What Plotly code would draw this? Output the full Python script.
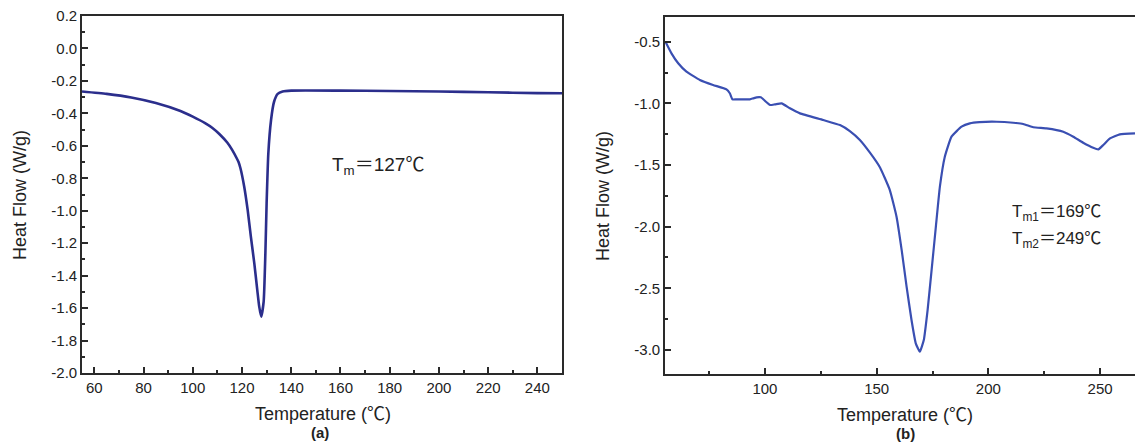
import plotly.graph_objects as go

# DSC curve (a): temperature (°C) and heat flow (W/g)
temp_a = [55, 65, 75, 85, 95, 100, 105, 108, 111, 114, 116, 117.8, 118.6, 119.4,
          120.9, 122.3, 123.6, 125.0, 126.2, 127.0, 127.8, 128.8, 129.5, 130.0, 130.7,
          131.8, 133.0, 134.5, 136.5, 140, 160, 180, 200, 220, 240, 250]
hf_a = [-0.265, -0.28, -0.302, -0.336, -0.385, -0.42, -0.46, -0.49, -0.53, -0.58,
        -0.625, -0.675, -0.70, -0.74, -0.852, -0.995, -1.16, -1.324, -1.488, -1.591,
        -1.653, -1.56, -1.262, -0.954, -0.646, -0.441, -0.33, -0.28, -0.265, -0.26,
        -0.26, -0.262, -0.265, -0.27, -0.275, -0.276]

# DSC curve (b)
temp_b = [55.5, 58.2, 61.2, 64.9, 70.9, 76.8, 82.8, 84.3, 85.5, 87.3, 93.3, 94.8,
          96.3, 98.2, 100.5, 102.3, 104.5, 107.5, 111.2, 115.7, 126.1, 133.6, 138.0,
          142.5, 147.0, 151.5, 155.9, 158.9, 161.2, 163.4, 165.6, 167.5, 169.3, 171.1,
          172.8, 174.6, 176.5, 178.3, 180.5, 183.5, 188.0, 191.7, 196.0, 203.7, 211.1,
          215.6, 220.1, 226.0, 233.5, 238.0, 242.4, 246.9, 249.2, 251.4, 254.4, 258.8,
          265.6]
hf_b = [-0.5, -0.594, -0.675, -0.743, -0.81, -0.851, -0.886, -0.918, -0.967, -0.967,
        -0.967, -0.959, -0.951, -0.951, -0.987, -1.013, -1.008, -1.0, -1.04, -1.081,
        -1.135, -1.176, -1.225, -1.297, -1.40, -1.52, -1.703, -1.919, -2.19, -2.487,
        -2.757, -2.946, -3.014, -2.919, -2.676, -2.35, -2.0, -1.676, -1.433, -1.27,
        -1.189, -1.162, -1.152, -1.149, -1.157, -1.167, -1.194, -1.203, -1.23, -1.27,
        -1.319, -1.36, -1.373, -1.338, -1.284, -1.251, -1.243]

ticks_a_y = [0.2, 0.0, -0.2, -0.4, -0.6, -0.8, -1.0, -1.2, -1.4, -1.6, -1.8, -2.0]
ticks_a_x = [60, 80, 100, 120, 140, 160, 180, 200, 220, 240]
ticks_b_y = [-0.5, -1.0, -1.5, -2.0, -2.5, -3.0]
ticks_b_x = [100, 150, 200, 250]

W, H = 1135, 443
FONT = "Liberation Sans, Arial, Noto Sans CJK SC, sans-serif"
AX = "#2a2a2a"


def px(x):
    return x / W


def py(y):
    return 1 - y / H


def labels(vals):
    # plain hyphen for negative numbers
    return [f"{v:.1f}" for v in vals]


fig = go.Figure()
fig.add_trace(go.Scatter(x=temp_a, y=hf_a, mode="lines", xaxis="x", yaxis="y",
                         line=dict(color="#2b2e8c", width=2.6, shape="spline", smoothing=0.5),
                         showlegend=False))
fig.add_trace(go.Scatter(x=temp_b, y=hf_b, mode="lines", xaxis="x2", yaxis="y2",
                         line=dict(color="#3a4fb2", width=2.2, shape="spline", smoothing=0.4),
                         showlegend=False))

common = dict(showline=True, linecolor=AX, linewidth=1.6, ticks="inside", ticklen=6,
              tickwidth=1.6, tickcolor=AX, showgrid=False, zeroline=False,
              automargin=False,
              tickfont=dict(family=FONT, size=15, color="#222"))


def minor(vals):
    return dict(ticks="inside", ticklen=3, tickwidth=1.6, tickcolor=AX, tickvals=vals)


fig.update_layout(
    width=W, height=H,
    margin=dict(l=0, r=0, t=0, b=0, autoexpand=False),
    paper_bgcolor="white", plot_bgcolor="white",
    xaxis=dict(domain=[px(82), px(562)], anchor="y", range=[55, 250],
               tickvals=ticks_a_x, mirror=True,
               minor=minor([70, 90, 110, 130, 150, 170, 190, 210, 230]),
               **common),
    yaxis=dict(domain=[py(373), py(16)], anchor="x", range=[-2.0, 0.2],
               tickvals=ticks_a_y, ticktext=labels(ticks_a_y), mirror=True,
               minor=minor([0.1, -0.1, -0.3, -0.5, -0.7, -0.9, -1.1, -1.3,
                            -1.5, -1.7, -1.9]),
               **common),
    xaxis2=dict(domain=[px(665), 1.0], anchor="y2", range=[55.3, 265.6],
                tickvals=ticks_b_x, mirror=True,
                minor=minor([75, 125, 175, 225]),
                **common),
    yaxis2=dict(domain=[py(374), py(16.7)], anchor="x2", range=[-3.195, -0.297],
                tickvals=ticks_b_y, ticktext=labels(ticks_b_y), mirror=False,
                minor=minor([-0.75, -1.25, -1.75, -2.25, -2.75]),
                **common),
)


def note(x, y, text, size, angle=0, bold=False):
    fig.add_annotation(x=px(x), y=py(y), xref="paper", yref="paper",
                       xanchor="center", yanchor="middle", showarrow=False,
                       textangle=angle, text=f"<b>{text}</b>" if bold else text,
                       font=dict(family=FONT, size=size, color="#222"))


# axis titles and panel labels
note(20, 195, "Heat Flow (W/g)", 18, angle=-90)
note(603, 196, "Heat Flow (W/g)", 18, angle=-90)
note(322.6, 414, "Temperature (℃)", 18)
note(905, 415, "Temperature (℃)", 18)
note(320, 432, "(a)", 15, bold=True)
note(905, 433, "(b)", 15, bold=True)

# melting-point labels
for x, y, text, size in [(330, 166, "T<sub>m</sub>＝127℃", 19),
                         (1010, 213, "T<sub>m1</sub>＝169℃", 17),
                         (1010, 240, "T<sub>m2</sub>＝249℃", 17)]:
    fig.add_annotation(x=px(x), y=py(y), xref="paper", yref="paper", xanchor="left",
                       yanchor="middle", showarrow=False, text=text,
                       font=dict(family=FONT, size=size, color="#222"))

fig.write_html("out.html")
